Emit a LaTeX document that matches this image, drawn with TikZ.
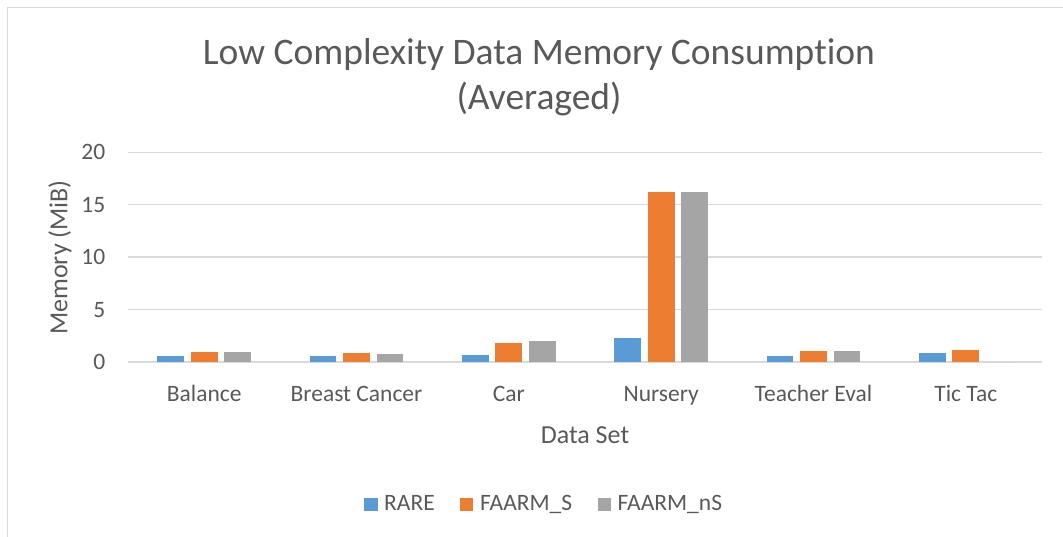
\documentclass[tikz,border=0pt]{standalone}
\usepackage{fontspec}
\setmainfont{Carlito}[Ligatures={NoCommon}]
\definecolor{txt}{HTML}{595959}
\definecolor{grid}{HTML}{D9D9D9}
\definecolor{rare}{HTML}{5B9BD5}
\definecolor{fs}{HTML}{ED7D31}
\definecolor{fns}{HTML}{A5A5A5}
\tikzset{
  gridline/.style={draw=grid, line width=1.3bp},
  ticklabel/.style={text=txt, inner sep=0pt, font=\fontsize{23.5bp}{28bp}\selectfont},
  axistitle/.style={text=txt, inner sep=0pt, font=\fontsize{26bp}{31bp}\selectfont},
  charttitle/.style={text=txt, inner sep=0pt, font=\fontsize{37.5bp}{45bp}\selectfont},
  swatch/.style={minimum size=13.5bp, inner sep=0pt, draw=none}
}
% plot area: x from 128 to 1042 px, value 0 at y=362, 20 at y=152.3
\newcommand{\valy}[1]{362-10.485*#1}
\begin{document}
\begin{tikzpicture}[x=1bp, y=-1bp]
\useasboundingbox (0,0) rectangle (1063,537);
% chart frame
\draw[grid, line width=1.3bp] (7.5,537) -- (7.5,7.5) -- (1063,7.5);
% title
\node[charttitle, anchor=base] (title1) at (539,64.3) {Low Complexity Data Memory Consumption};
\node[charttitle, anchor=base] (title2) at (539,109.5) {(Averaged)};
% horizontal grid lines and value labels
\foreach \v/\n in {0/g0,5/g5,10/g10,15/g15,20/g20}{
  \coordinate (\n l) at (128,{\valy{\v}});
  \coordinate (\n r) at (1042,{\valy{\v}});
  \draw[gridline] (\n l) -- (\n r);
  \node[ticklabel, anchor=base east] (\n t) at (105.5,{\valy{\v}+7.5}) {\v};
}
% bars: category centre, RARE, FAARM_S, FAARM_nS
\foreach \i/\c/\a/\b/\d in {0/Balance/0.6/0.95/0.93,
                            1/Breast Cancer/0.6/0.83/0.8,
                            2/Car/0.7/1.84/1.97,
                            3/Nursery/2.26/16.2/16.2,
                            4/Teacher Eval/0.54/1.08/1.08,
                            5/Tic Tac/0.86/1.14/0}{
  \pgfmathsetmacro{\cx}{128+152.33*(\i+0.5)}
  \fill[rare] ({\cx-33.6-13.35},{\valy{\a}}) rectangle ({\cx-33.6+13.35},362);
  \fill[fs]   ({\cx-13.35},{\valy{\b}}) rectangle ({\cx+13.35},362);
  \fill[fns]  ({\cx+33.6-13.35},{\valy{\d}}) rectangle ({\cx+33.6+13.35},362);
  \node[ticklabel, anchor=base] (cat\i) at (\cx,401.5) {\c};
}
% axis titles
\node[axistitle, anchor=base] (xtitle) at (585,443) {Data Set};
\node[axistitle, rotate=90] (ytitle) at (60,257.5) {Memory (MiB)};
% legend
\node[swatch, fill=rare, anchor=north west] (k1) at (364,497.3) {};
\node[ticklabel, anchor=base west] (l1) at (384,510.7) {RARE};
\node[swatch, fill=fs, anchor=north west] (k2) at (459.5,497.3) {};
\node[ticklabel, anchor=base west] (l2) at (480,510.7) {FAARM\_S};
\node[swatch, fill=fns, anchor=north west] (k3) at (597.5,497.3) {};
\node[ticklabel, anchor=base west] (l3) at (617.5,510.7) {FAARM\_nS};
\end{tikzpicture}
\end{document}
